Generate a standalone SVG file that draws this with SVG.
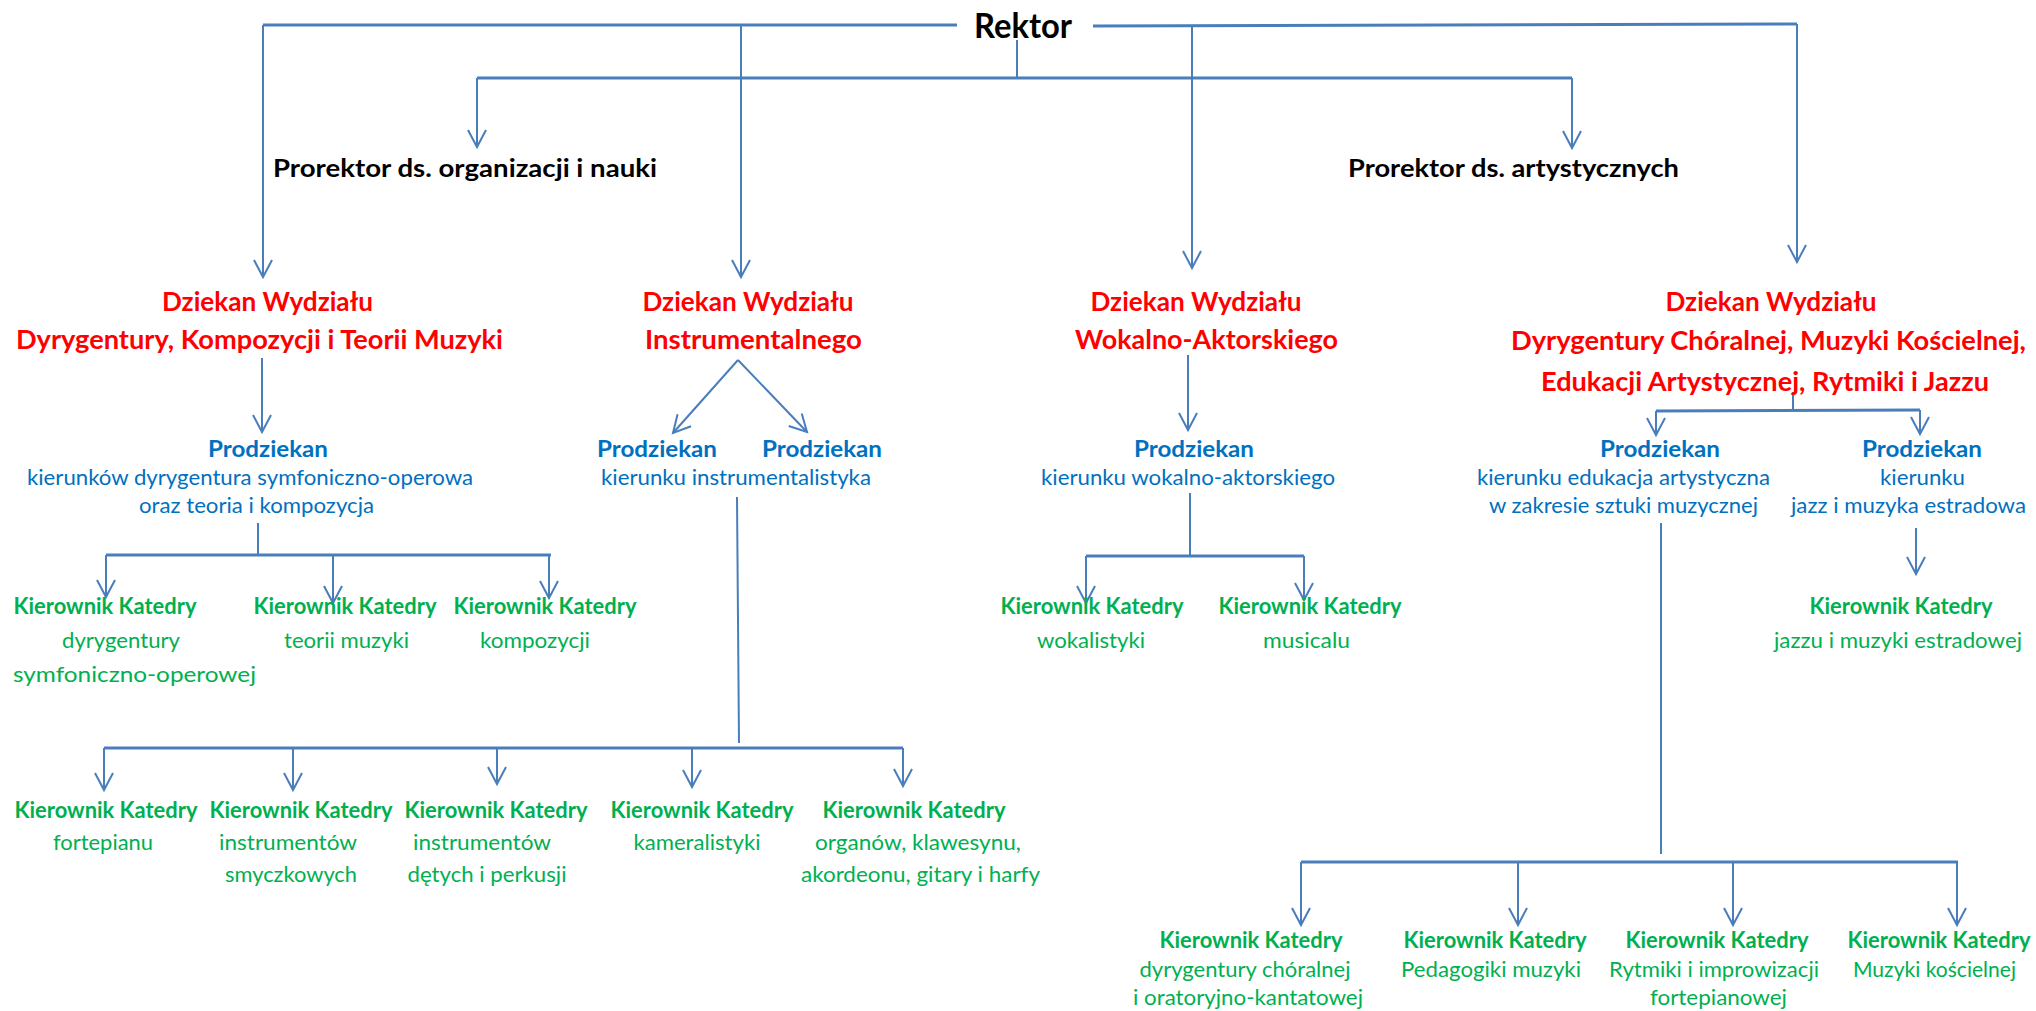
<svg xmlns="http://www.w3.org/2000/svg" width="2036" height="1011" viewBox="0 0 2036 1011">
<style>
text{font-family:Lato,"Liberation Sans",sans-serif;text-anchor:middle}
.rk{font-size:34px;font-weight:700;fill:#000}
.pr{font-size:25.5px;font-weight:700;fill:#000}
.dz{font-size:26.5px;font-weight:700;fill:#FF0000}
.pd{font-size:22px;font-weight:700;fill:#0070C0}
.pdt{font-size:22px;fill:#0070C0}
.kk{font-size:22px;font-weight:700;fill:#00B050}
.kkt{font-size:22px;fill:#00B050}
.ln{fill:none;stroke:#4A7EBB;stroke-width:2}
.bus{fill:none;stroke:#4A7EBB;stroke-width:3}
.ar{fill:none;stroke:#4A7EBB;stroke-width:2;marker-end:url(#ah)}
</style>
<defs>
<marker id="ah" markerUnits="userSpaceOnUse" viewBox="-20 -12 22 24" refX="0" refY="0" markerWidth="22" markerHeight="24" orient="auto" overflow="visible">
<path d="M -17 -9 L 0 0 L -17 9" fill="none" stroke="#4A7EBB" stroke-width="2"/>
</marker>
</defs>
<rect width="2036" height="1011" fill="#fff"/>
<g id="connectors">
<path class="bus" d="M 263 25 H 957 M 1093 26 L 1797 24"/>
<path class="ar" d="M 263 25 V 277"/>
<path class="ar" d="M 741 25 V 277"/>
<path class="ar" d="M 1192 26 V 268"/>
<path class="ar" d="M 1797 24 V 262"/>
<path class="ln" d="M 1017 40 V 78"/>
<path class="bus" d="M 477 78 H 1572"/>
<path class="ar" d="M 477 78 V 147"/>
<path class="ar" d="M 1572 78 V 148"/>
<path class="ar" d="M 262 358 V 432"/>
<path class="ln" d="M 258 523 V 555"/>
<path class="bus" d="M 106 555 H 551"/>
<path class="ar" d="M 106 555 V 597"/>
<path class="ar" d="M 333 555 V 603"/>
<path class="ar" d="M 549 555 V 598"/>
<path class="ar" d="M 738 360 L 673 433"/>
<path class="ar" d="M 738 360 L 807 432"/>
<path class="ln" d="M 737 497 L 739 743"/>
<path class="bus" d="M 104 748 H 903"/>
<path class="ar" d="M 104 748 V 790"/>
<path class="ar" d="M 293 748 V 790"/>
<path class="ar" d="M 497 748 V 784"/>
<path class="ar" d="M 692 748 V 787"/>
<path class="ar" d="M 903 748 V 786"/>
<path class="ar" d="M 1188 355 V 430"/>
<path class="ln" d="M 1190 493 V 555"/>
<path class="bus" d="M 1086 556 H 1304"/>
<path class="ar" d="M 1086 556 V 603"/>
<path class="ar" d="M 1304 556 V 600"/>
<path class="ln" d="M 1793 392 V 410"/>
<path class="bus" d="M 1656 411 L 1920 410"/>
<path class="ar" d="M 1656 411 V 435"/>
<path class="ar" d="M 1920 410 V 434"/>
<path class="ar" d="M 1916 528 V 574"/>
<path class="ln" d="M 1661 523 V 854"/>
<path class="bus" d="M 1301 862 H 1958"/>
<path class="ar" d="M 1301 862 V 925"/>
<path class="ar" d="M 1518 862 V 925"/>
<path class="ar" d="M 1733 862 V 925"/>
<path class="ar" d="M 1957 862 V 925"/>
</g>
<g id="rektor"><text class="rk" x="1023" y="38" textLength="98" lengthAdjust="spacingAndGlyphs">Rektor</text></g>
<g id="prorektor-org"><text class="pr" x="465" y="177" textLength="384" lengthAdjust="spacingAndGlyphs">Prorektor ds. organizacji i nauki</text></g>
<g id="prorektor-art"><text class="pr" x="1513.5" y="177" textLength="331" lengthAdjust="spacingAndGlyphs">Prorektor ds. artystycznych</text></g>
<g id="dziekan-1">
<text class="dz" x="267.5" y="311" textLength="211" lengthAdjust="spacingAndGlyphs">Dziekan Wydziału</text>
<text class="dz" x="259.5" y="349" textLength="487" lengthAdjust="spacingAndGlyphs">Dyrygentury, Kompozycji i Teorii Muzyki</text>
</g>
<g id="dziekan-2">
<text class="dz" x="748" y="311" textLength="211" lengthAdjust="spacingAndGlyphs">Dziekan Wydziału</text>
<text class="dz" x="753.5" y="349" textLength="217" lengthAdjust="spacingAndGlyphs">Instrumentalnego</text>
</g>
<g id="dziekan-3">
<text class="dz" x="1196" y="311" textLength="211" lengthAdjust="spacingAndGlyphs">Dziekan Wydziału</text>
<text class="dz" x="1206.5" y="349" textLength="263" lengthAdjust="spacingAndGlyphs">Wokalno-Aktorskiego</text>
</g>
<g id="dziekan-4">
<text class="dz" x="1771" y="311" textLength="211" lengthAdjust="spacingAndGlyphs">Dziekan Wydziału</text>
<text class="dz" x="1768.5" y="350" textLength="515" lengthAdjust="spacingAndGlyphs">Dyrygentury Chóralnej, Muzyki Kościelnej,</text>
<text class="dz" x="1765" y="391" textLength="448" lengthAdjust="spacingAndGlyphs">Edukacji Artystycznej, Rytmiki i Jazzu</text>
</g>
<g id="prodziekan-1">
<text class="pd" x="268" y="457" textLength="120" lengthAdjust="spacingAndGlyphs">Prodziekan</text>
<text class="pdt" x="250" y="485" textLength="446" lengthAdjust="spacingAndGlyphs">kierunków dyrygentura symfoniczno-operowa</text>
<text class="pdt" x="256.5" y="513" textLength="235" lengthAdjust="spacingAndGlyphs">oraz teoria i kompozycja</text>
</g>
<g id="prodziekan-2a"><text class="pd" x="657" y="457" textLength="120" lengthAdjust="spacingAndGlyphs">Prodziekan</text></g>
<g id="prodziekan-2b"><text class="pd" x="822" y="457" textLength="120" lengthAdjust="spacingAndGlyphs">Prodziekan</text></g>
<g id="prodziekan-2-label"><text class="pdt" x="736" y="485" textLength="270" lengthAdjust="spacingAndGlyphs">kierunku instrumentalistyka</text></g>
<g id="prodziekan-3">
<text class="pd" x="1194" y="457" textLength="120" lengthAdjust="spacingAndGlyphs">Prodziekan</text>
<text class="pdt" x="1188" y="485" textLength="294" lengthAdjust="spacingAndGlyphs">kierunku wokalno-aktorskiego</text>
</g>
<g id="prodziekan-4a">
<text class="pd" x="1660" y="457" textLength="120" lengthAdjust="spacingAndGlyphs">Prodziekan</text>
<text class="pdt" x="1623.5" y="485" textLength="293" lengthAdjust="spacingAndGlyphs">kierunku edukacja artystyczna</text>
<text class="pdt" x="1623.5" y="513" textLength="269" lengthAdjust="spacingAndGlyphs">w zakresie sztuki muzycznej</text>
</g>
<g id="prodziekan-4b">
<text class="pd" x="1922" y="457" textLength="120" lengthAdjust="spacingAndGlyphs">Prodziekan</text>
<text class="pdt" x="1922.5" y="485" textLength="85" lengthAdjust="spacingAndGlyphs">kierunku</text>
<text class="pdt" x="1908.5" y="513" textLength="235" lengthAdjust="spacingAndGlyphs">jazz i muzyka estradowa</text>
</g>
<g id="katedra-dyrygentury-symf">
<text class="kk" x="105" y="614" textLength="183" lengthAdjust="spacingAndGlyphs">Kierownik Katedry</text>
<text class="kkt" x="121" y="648" textLength="118" lengthAdjust="spacingAndGlyphs">dyrygentury</text>
<text class="kkt" x="134.5" y="682" textLength="243" lengthAdjust="spacingAndGlyphs">symfoniczno-operowej</text>
</g>
<g id="katedra-teorii">
<text class="kk" x="345" y="614" textLength="183" lengthAdjust="spacingAndGlyphs">Kierownik Katedry</text>
<text class="kkt" x="346.5" y="648" textLength="125" lengthAdjust="spacingAndGlyphs">teorii muzyki</text>
</g>
<g id="katedra-kompozycji">
<text class="kk" x="545" y="614" textLength="183" lengthAdjust="spacingAndGlyphs">Kierownik Katedry</text>
<text class="kkt" x="535" y="648" textLength="110" lengthAdjust="spacingAndGlyphs">kompozycji</text>
</g>
<g id="katedra-wokalistyki">
<text class="kk" x="1092" y="614" textLength="183" lengthAdjust="spacingAndGlyphs">Kierownik Katedry</text>
<text class="kkt" x="1091" y="648" textLength="108" lengthAdjust="spacingAndGlyphs">wokalistyki</text>
</g>
<g id="katedra-musicalu">
<text class="kk" x="1310" y="614" textLength="183" lengthAdjust="spacingAndGlyphs">Kierownik Katedry</text>
<text class="kkt" x="1306.5" y="648" textLength="87" lengthAdjust="spacingAndGlyphs">musicalu</text>
</g>
<g id="katedra-jazzu">
<text class="kk" x="1901" y="614" textLength="183" lengthAdjust="spacingAndGlyphs">Kierownik Katedry</text>
<text class="kkt" x="1898" y="648" textLength="248" lengthAdjust="spacingAndGlyphs">jazzu i muzyki estradowej</text>
</g>
<g id="katedra-fortepianu">
<text class="kk" x="106" y="818" textLength="183" lengthAdjust="spacingAndGlyphs">Kierownik Katedry</text>
<text class="kkt" x="103" y="850" textLength="100" lengthAdjust="spacingAndGlyphs">fortepianu</text>
</g>
<g id="katedra-smyczkowych">
<text class="kk" x="301" y="818" textLength="183" lengthAdjust="spacingAndGlyphs">Kierownik Katedry</text>
<text class="kkt" x="288" y="850" textLength="138" lengthAdjust="spacingAndGlyphs">instrumentów</text>
<text class="kkt" x="291" y="882" textLength="132" lengthAdjust="spacingAndGlyphs">smyczkowych</text>
</g>
<g id="katedra-detych">
<text class="kk" x="496" y="818" textLength="183" lengthAdjust="spacingAndGlyphs">Kierownik Katedry</text>
<text class="kkt" x="482" y="850" textLength="138" lengthAdjust="spacingAndGlyphs">instrumentów</text>
<text class="kkt" x="487" y="882" textLength="159" lengthAdjust="spacingAndGlyphs">dętych i perkusji</text>
</g>
<g id="katedra-kameralistyki">
<text class="kk" x="702" y="818" textLength="183" lengthAdjust="spacingAndGlyphs">Kierownik Katedry</text>
<text class="kkt" x="697" y="850" textLength="127" lengthAdjust="spacingAndGlyphs">kameralistyki</text>
</g>
<g id="katedra-organow">
<text class="kk" x="914" y="818" textLength="183" lengthAdjust="spacingAndGlyphs">Kierownik Katedry</text>
<text class="kkt" x="918" y="850" textLength="206" lengthAdjust="spacingAndGlyphs">organów, klawesynu,</text>
<text class="kkt" x="920.5" y="882" textLength="239" lengthAdjust="spacingAndGlyphs">akordeonu, gitary i harfy</text>
</g>
<g id="katedra-dyrygentury-choralnej">
<text class="kk" x="1251" y="948" textLength="183" lengthAdjust="spacingAndGlyphs">Kierownik Katedry</text>
<text class="kkt" x="1245" y="977" textLength="211" lengthAdjust="spacingAndGlyphs">dyrygentury chóralnej</text>
<text class="kkt" x="1248" y="1005" textLength="230" lengthAdjust="spacingAndGlyphs">i oratoryjno-kantatowej</text>
</g>
<g id="katedra-pedagogiki">
<text class="kk" x="1495" y="948" textLength="183" lengthAdjust="spacingAndGlyphs">Kierownik Katedry</text>
<text class="kkt" x="1491" y="977" textLength="180" lengthAdjust="spacingAndGlyphs">Pedagogiki muzyki</text>
</g>
<g id="katedra-rytmiki">
<text class="kk" x="1717" y="948" textLength="183" lengthAdjust="spacingAndGlyphs">Kierownik Katedry</text>
<text class="kkt" x="1714" y="977" textLength="210" lengthAdjust="spacingAndGlyphs">Rytmiki i improwizacji</text>
<text class="kkt" x="1718.5" y="1005" textLength="137" lengthAdjust="spacingAndGlyphs">fortepianowej</text>
</g>
<g id="katedra-muzyki-koscielnej">
<text class="kk" x="1939" y="948" textLength="183" lengthAdjust="spacingAndGlyphs">Kierownik Katedry</text>
<text class="kkt" x="1934.5" y="977" textLength="163" lengthAdjust="spacingAndGlyphs">Muzyki kościelnej</text>
</g>
</svg>
